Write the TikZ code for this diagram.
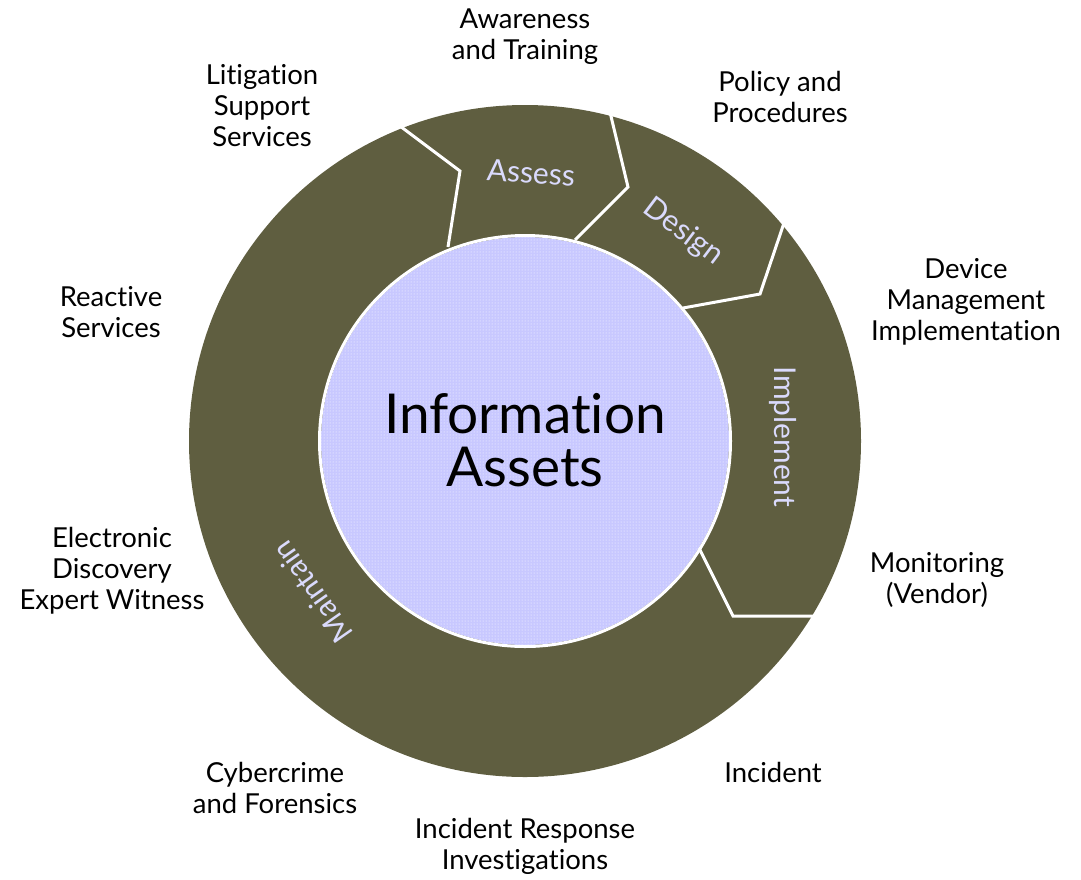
\documentclass[tikz,border=0pt]{standalone}
\usepackage{fontspec}
\setmainfont[Ligatures={NoCommon}]{Lato}
\usetikzlibrary{patterns}
\definecolor{olive}{RGB}{95,94,64}
\definecolor{lav}{RGB}{200,200,255}
\definecolor{ringtext}{RGB}{218,218,252}
\tikzset{
  lbl/.style={align=center, text=black, inner sep=0pt, font=\fontsize{27.5}{31}\selectfont},
  ringlbl/.style={text=ringtext, inner sep=0pt, font=\fontsize{30}{30}\selectfont},
  sep/.style={draw=white, line width=3pt, line join=miter, line cap=butt},
}
\begin{document}
\begin{tikzpicture}[x=1pt,y=-1pt]
\useasboundingbox (0,0) rectangle (1081,879);
% ring
\coordinate (c) at (525,441);
\fill[olive] (c) circle (336);
% inner circle
\fill[lav] (c) circle (204);
\fill[pattern=dots, pattern color=white] (c) circle (204);
\draw[white, line width=3pt] (c) circle (205.5);
% separators
\coordinate (s1o) at (396,123); \coordinate (s1k) at (460,171); \coordinate (s1i) at (448,247);
\coordinate (s2o) at (609,108); \coordinate (s2k) at (628,187); \coordinate (s2i) at (575,240);
\coordinate (s3o) at (785,220); \coordinate (s3k) at (760,294); \coordinate (s3i) at (683,308);
\coordinate (s4i) at (699,548); \coordinate (s4k) at (733,616); \coordinate (s4o) at (818,616);
\draw[sep] (s1o) -- (s1k) -- (s1i);
\draw[sep] (s2o) -- (s2k) -- (s2i);
\draw[sep] (s3o) -- (s3k) -- (s3i);
\draw[sep] (s4i) -- (s4k) -- (s4o);
% ring labels
\node[ringlbl, rotate=-4] (assess) at (531,173) {Assess};
\node[ringlbl, rotate=-37] (design) at (683,232) {Design};
\node[ringlbl, rotate=-90] (implement) at (783,437) {Implement};
\node[ringlbl, rotate=125] (maintain) at (312,592) {Maintain};
% centre
\node[align=center, inner sep=0pt, font=\fontsize{55}{53}\selectfont] (info) at (525,440) {Information\\Assets};
% outer labels
\node[lbl] (aware) at (525,37) {Awareness\\and Training};
\node[lbl] (litig) at (262,106) {Litigation\\Support\\Services};
\node[lbl] (policy) at (780,97) {Policy and\\Procedures};
\node[lbl] (device) at (966,302) {Device\\Management\\Implementation};
\node[lbl] (react) at (111,312) {Reactive\\Services};
\node[lbl] (edisc) at (112,571) {Electronic\\Discovery\\Expert Witness};
\node[lbl] (monit) at (937,580) {Monitoring\\(Vendor)};
\node[lbl] (cyber) at (275,788) {Cybercrime\\and Forensics};
\node[lbl] (incid) at (773,772) {Incident};
\node[lbl] (irinv) at (525,846) {Incident Response\\Investigations};
\end{tikzpicture}
\end{document}
